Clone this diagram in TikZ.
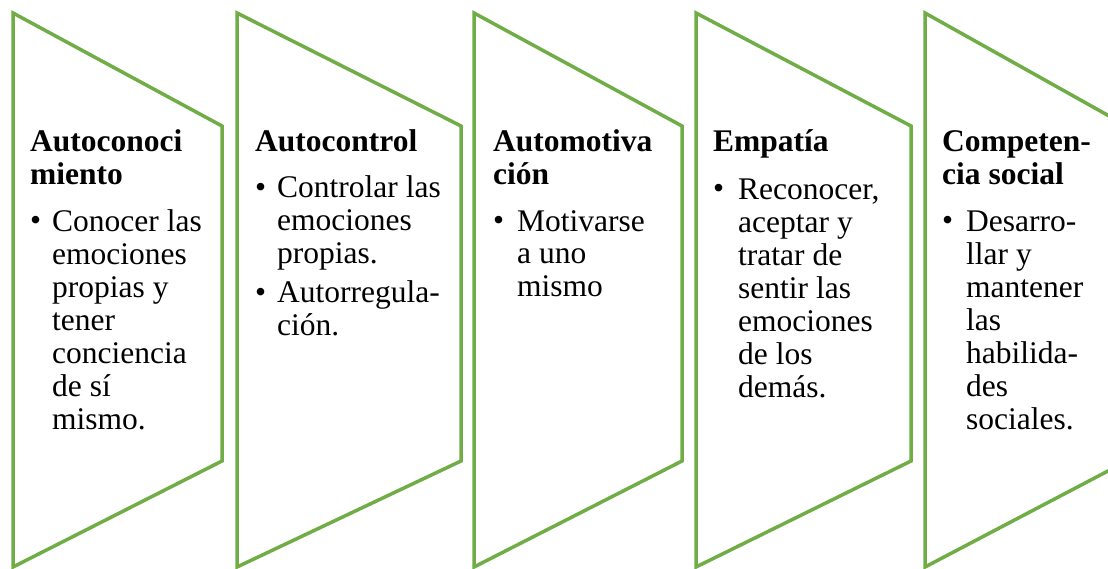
\documentclass[tikz,border=0pt]{standalone}
\usepackage{fontspec}
\setmainfont{Liberation Serif}
\definecolor{leafgreen}{HTML}{70AD47}
\newcommand\cardfont{\fontsize{31.5}{33}\selectfont}

\begin{document}
\begin{tikzpicture}[x=1pt, y=-1pt,
  card/.style={draw=leafgreen, line width=3.5pt},
  head/.style={anchor=base west, inner sep=0pt, align=left, font=\cardfont\bfseries},
  item/.style={anchor=base west, inner sep=0pt, align=left, font=\cardfont},
  dot/.style={anchor=base west, inner sep=0pt, font=\cardfont}]
  \useasboundingbox (0, 0) rectangle (1108, 569);
  \clip (0, 0) rectangle (1108, 569);

  \draw[card] (13, 13) -- (222, 126) -- (222, 461) -- (13, 567) -- cycle;
  \draw[card] (237, 13) -- (461, 126) -- (461, 461) -- (237, 567) -- cycle;
  \draw[card] (474, 13) -- (682, 126) -- (682, 461) -- (474, 567) -- cycle;
  \draw[card] (696, 13) -- (911, 126) -- (911, 461) -- (696, 567) -- cycle;
  \draw[card] (925, 13) -- (1127, 126) -- (1127, 461) -- (925, 567) -- cycle;

  % multi-line nodes sit on the baseline of their last line
  \node[head] (h1) at (30, 185) {Autoconoci\\miento};
  \node[dot] (d1) at (30, 231) {•};
  \node[item] (i1) at (52, 429) {Conocer las\\emociones\\propias y\\tener\\conciencia\\de sí\\mismo.};

  \node[head] (h2) at (255, 152) {Autocontrol};
  \node[dot] (d2a) at (255, 198) {•};
  \node[item] (i2a) at (277, 264) {Controlar las\\emociones\\propias.};
  \node[dot] (d2b) at (255, 302) {•};
  \node[item] (i2b) at (277, 335) {Autorregula-\\ción.};

  \node[head] (h3) at (493, 185) {Automotiva\\ción};
  \node[dot] (d3) at (493, 231) {•};
  \node[item] (i3) at (517, 297) {Motivarse\\a uno\\mismo};

  \node[head] (h4) at (713, 152) {Empatía};
  \node[dot] (d4) at (713, 199) {•};
  \node[item] (i4) at (738, 397) {Reconocer,\\aceptar y\\tratar de\\sentir las\\emociones\\de los\\demás.};

  \node[head] (h5) at (942, 185) {Competen-\\cia social};
  \node[dot] (d5) at (942, 231) {•};
  \node[item] (i5) at (966, 429) {Desarro-\\llar y\\mantener\\las\\habilida-\\des\\sociales.};
\end{tikzpicture}
\end{document}
